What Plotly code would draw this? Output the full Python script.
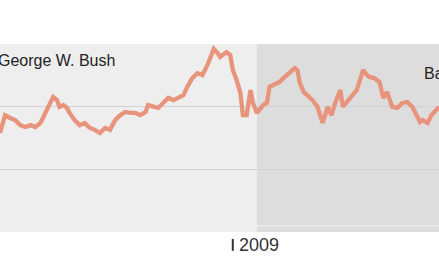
import plotly.graph_objects as go

dates = [
    "2008-07-01", "2008-07-05", "2008-07-09", "2008-07-13", "2008-07-17", "2008-07-21",
    "2008-07-25", "2008-07-29", "2008-08-02", "2008-08-06", "2008-08-10", "2008-08-12",
    "2008-08-15", "2008-08-17", "2008-08-20", "2008-08-23", "2008-08-25", "2008-08-29",
    "2008-09-02", "2008-09-06", "2008-09-10", "2008-09-14", "2008-09-18", "2008-09-22",
    "2008-09-26", "2008-09-30", "2008-10-04", "2008-10-08", "2008-10-12", "2008-10-16",
    "2008-10-20", "2008-10-24", "2008-10-26", "2008-10-30", "2008-11-03", "2008-11-07",
    "2008-11-11", "2008-11-15", "2008-11-19", "2008-11-23", "2008-11-26", "2008-11-30",
    "2008-12-04", "2008-12-08", "2008-12-12", "2008-12-16", "2008-12-17", "2008-12-20",
    "2008-12-22", "2008-12-24", "2008-12-27", "2008-12-30", "2009-01-01", "2009-01-04",
    "2009-01-07", "2009-01-09", "2009-01-12", "2009-01-15", "2009-01-17", "2009-01-20",
    "2009-01-23", "2009-01-25", "2009-01-28", "2009-01-30", "2009-02-02", "2009-02-05",
    "2009-02-07", "2009-02-10", "2009-02-13", "2009-02-15", "2009-02-19", "2009-02-21",
    "2009-02-23", "2009-02-26", "2009-03-01", "2009-03-03", "2009-03-05", "2009-03-09",
    "2009-03-11", "2009-03-13", "2009-03-17", "2009-03-20", "2009-03-23", "2009-03-27",
    "2009-03-29", "2009-04-01", "2009-04-05", "2009-04-09", "2009-04-12", "2009-04-14",
    "2009-04-17", "2009-04-19", "2009-04-23", "2009-04-27", "2009-04-30", "2009-05-03",
    "2009-05-07", "2009-05-11", "2009-05-15", "2009-05-19", "2009-05-23", "2009-05-27",
    "2009-05-29", "2009-05-31", "2009-06-04", "2009-06-07", "2009-06-11", "2009-06-13",
]

values = [
    51.6, 57.3, 56.4, 55.7, 54.1, 53.5,
    54.1, 53.5, 54.8, 58.0, 61.2, 63.1,
    62.1, 59.9, 60.5, 59.6, 58.0, 55.7,
    54.1, 54.8, 53.2, 52.6, 51.6, 53.2,
    52.6, 55.7, 57.3, 58.3, 58.0, 58.0,
    57.3, 58.3, 60.5, 59.9, 59.6, 61.2,
    62.8, 62.1, 63.1, 63.7, 66.3, 69.1,
    70.7, 70.1, 73.3, 77.1, 78.4, 77.1,
    75.9, 76.5, 77.4, 76.5, 71.7, 68.5,
    64.4, 57.3, 57.3, 65.3, 61.2, 58.0,
    59.6, 60.5, 61.2, 66.3, 66.9, 67.6,
    67.9, 69.1, 70.1, 71.1, 72.3, 71.7,
    67.6, 64.7, 63.7, 63.1, 62.1, 59.9,
    56.7, 54.8, 59.9, 57.3, 61.2, 65.3,
    59.9, 61.5, 63.7, 65.3, 69.1, 71.7,
    70.1, 69.5, 69.1, 67.9, 62.8, 64.7,
    59.9, 59.6, 61.2, 61.5, 59.9, 56.7,
    55.1, 55.7, 54.8, 57.3, 58.9, 59.9,
]

x_range = ["2008-07-01", "2009-06-13"]
y_range = [20, 80]
grid_vals = [40, 60]
obama_start = "2009-01-20"
tick_date = "2009-01-01"
tick_label = "2009"
presidents = ["George W. Bush", "Barack Obama"]

fig = go.Figure()

fig.add_trace(go.Scatter(
    x=dates, y=values, mode="lines",
    line=dict(color="#e8937c", width=4.3),
    hoverinfo="skip", showlegend=False,
))

# Obama-era shading
fig.add_shape(type="rect", xref="x", yref="paper",
              x0=obama_start, x1=x_range[1], y0=0, y1=1,
              fillcolor="#dddddd", line=dict(width=0), layer="below")
# faint baseline
fig.add_shape(type="line", xref="paper", yref="y",
              x0=0, x1=1, y0=22, y1=22,
              line=dict(color="#f1f1f1", width=1), layer="below")
# tick mark for year
fig.add_shape(type="line", xref="x", yref="paper",
              x0=tick_date, x1=tick_date, y0=-0.037, y1=-0.100,
              line=dict(color="#333333", width=2))

fig.add_annotation(x=tick_date, y=-0.069, xref="x", yref="paper",
                   text=tick_label, showarrow=False, xanchor="left", yanchor="middle",
                   xshift=4, font=dict(size=18, color="#333333"))
fig.add_annotation(x=-0.008, y=0.912, xref="paper", yref="paper",
                   text=presidents[0], showarrow=False, xanchor="left", yanchor="middle",
                   font=dict(size=16, color="#222222"))
fig.add_annotation(x=0.962, y=0.843, xref="paper", yref="paper",
                   text=presidents[1], showarrow=False, xanchor="left", yanchor="middle",
                   font=dict(size=16, color="#222222"))

fig.update_layout(
    width=439, height=274,
    margin=dict(l=0, r=0, t=44, b=42),
    paper_bgcolor="white",
    plot_bgcolor="#eeeeee",
    font=dict(family="Liberation Sans, Arial, sans-serif"),
    xaxis=dict(range=x_range, showgrid=False, showticklabels=False, zeroline=False,
               showline=False, fixedrange=True),
    yaxis=dict(range=y_range, tickvals=grid_vals, showticklabels=False,
               gridcolor="#d2d2d2", gridwidth=1, zeroline=False, showline=False,
               fixedrange=True),
)

fig.write_html("out.html", config={"displayModeBar": False})
